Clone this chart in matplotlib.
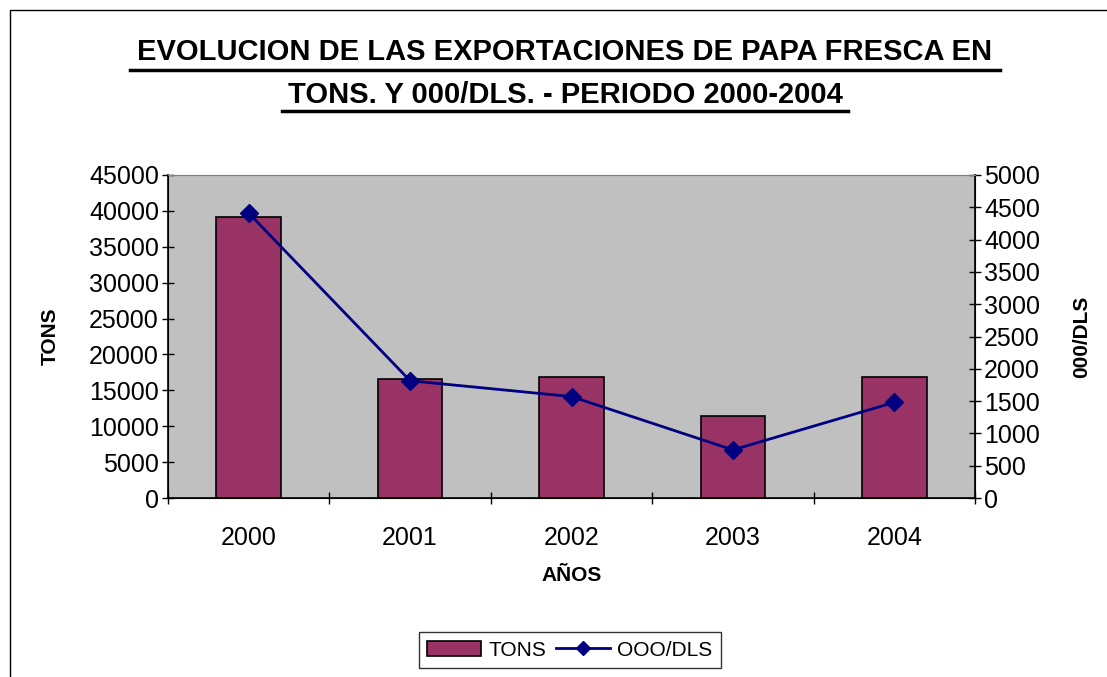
import matplotlib.pyplot as plt
from matplotlib.lines import Line2D
from matplotlib.patches import Patch, Rectangle

years = ['2000', '2001', '2002', '2003', '2004']
tons = [39200, 16600, 16900, 11400, 16900]
dls = [4410, 1815, 1570, 745, 1480]


def main():
    plt.rcParams['font.family'] = ['Liberation Sans', 'DejaVu Sans']
    fig = plt.figure(figsize=(11.07, 6.77), dpi=100)

    # outer chart frame
    fig.patches.append(Rectangle((10 / 1107, -0.01), 1.1, 1 - 10 / 677 + 0.01,
                                 transform=fig.transFigure, fill=False,
                                 edgecolor='black', linewidth=1.0))

    ax1 = fig.add_axes([168 / 1107, 179 / 677, (975 - 168) / 1107, (498 - 175) / 677])
    ax1.set_facecolor('#C0C0C0')
    x = range(len(years))
    ax1.bar(x, tons, width=0.4, color='#993366', edgecolor='black', linewidth=1.2,
            zorder=2)
    ax1.set_xlim(-0.5, 4.5)
    ax1.set_ylim(0, 45000)
    ax1.set_yticks(range(0, 45001, 5000))
    ax1.set_xticks(x)
    ax1.set_xticklabels(years)
    ax1.set_xticks([i - 0.5 for i in range(6)], minor=True)
    ax1.tick_params(axis='x', which='major', length=0, labelsize=18, pad=20)
    ax1.tick_params(axis='x', which='minor', length=9, direction='inout', width=1)
    ax1.tick_params(axis='y', labelsize=18, direction='inout', length=9, width=1, pad=2)
    ax1.set_ylabel('TONS', fontsize=15, fontweight='bold', labelpad=21)
    ax1.set_xlabel('AÑOS', fontsize=15, fontweight='bold', labelpad=12)
    ax1.spines['top'].set_color('#808080')
    ax1.spines['left'].set_linewidth(1.2)
    ax1.spines['bottom'].set_linewidth(1.2)

    ax2 = ax1.twinx()
    ax2.plot(x, dls, color='#000080', linewidth=2, marker='D', markersize=9,
             zorder=3)
    ax2.set_ylim(0, 5000)
    ax2.set_yticks(range(0, 5001, 500))
    ax2.tick_params(axis='y', labelsize=18, direction='inout', length=9, width=1, pad=2)
    ax2.set_ylabel('000/DLS', fontsize=15, fontweight='bold', labelpad=23)
    ax2.spines['right'].set_linewidth(1.2)
    ax2.spines['top'].set_color('#808080')

    fig.text(565 / 1107, 1 - 52 / 677, 'EVOLUCION DE LAS EXPORTACIONES DE PAPA FRESCA EN',
             ha='center', va='center', fontsize=21, fontweight='bold')
    fig.text(565 / 1107, 1 - 95 / 677, 'TONS. Y 000/DLS. - PERIODO 2000-2004',
             ha='center', va='center', fontsize=21, fontweight='bold')
    # underlines
    fig.add_artist(Line2D([130 / 1107, 1000 / 1107], [1 - 70 / 677] * 2,
                          color='black', linewidth=2.5))
    fig.add_artist(Line2D([282 / 1107, 848 / 1107], [1 - 111 / 677] * 2,
                          color='black', linewidth=2.5))

    handles = [Patch(facecolor='#993366', edgecolor='black', linewidth=1.2),
               Line2D([], [], color='#000080', linewidth=2, marker='D', markersize=7)]
    leg = fig.legend(handles, ['TONS', 'OOO/DLS'], loc='center',
                     bbox_to_anchor=(570 / 1107, 1 - 650 / 677), ncol=2,
                     fontsize=15, frameon=True, fancybox=False, edgecolor='black',
                     handlelength=2.6, handletextpad=0.35, columnspacing=0.45,
                     borderpad=0.4, borderaxespad=0)
    leg.get_frame().set_linewidth(1.0)

    fig.savefig('out.png', dpi=100)


if __name__ == "__main__":
    main()
